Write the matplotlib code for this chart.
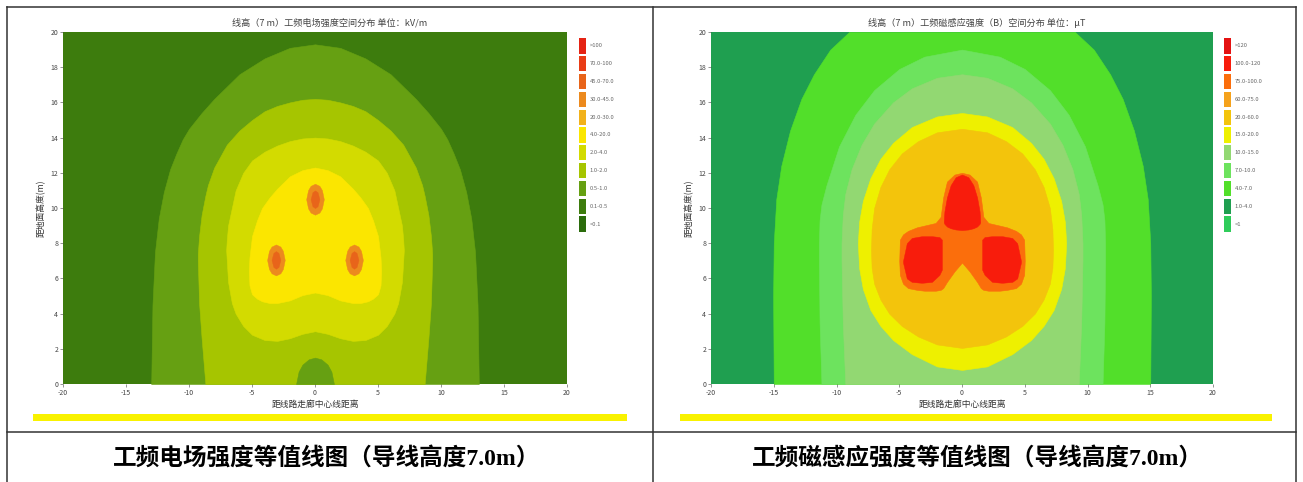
import numpy as np
import matplotlib
matplotlib.use('Agg')
import matplotlib.pyplot as plt
from matplotlib.patches import Rectangle

plt.rcParams['font.family'] = ['Noto Sans CJK SC', 'DejaVu Sans']
plt.rcParams['axes.unicode_minus'] = False

W, H = 1303, 482

# ---------------- left map : power-frequency electric field ----------------
e_title = '线高（7 m）工频电场强度空间分布 单位：kV/m'
e_caption = '工频电场强度等值线图（导线高度7.0m）'
e_labels = ['<0.1', '0.1-0.5', '0.5-1.0', '1.0-2.0', '2.0-4.0', '4.0-20.0',
            '20.0-30.0', '30.0-45.0', '45.0-70.0', '70.0-100', '>100']
e_colors = ['#2b6c0c', '#3d7c0d', '#66a012', '#a6c500', '#d3db00', '#fbe600',
            '#f2b21a', '#ec8a1e', '#e8641a', '#e93c16', '#e52314']

# contour outlines (right half, mirrored about x=0)
e_ring1_x  = [0, 2, 4, 6, 7, 8, 9, 10, 10.5, 11, 11.5, 12, 12.4, 12.7, 12.9, 13.0]
e_ring1_lo = [0] * 16
e_ring1_hi = [19.3, 19.1, 18.5, 17.6, 16.9, 16.2, 15.4, 14.5, 13.9, 13.1, 12.2, 10.9, 9.4, 7.5, 4.5, 0]

e_ring2_x  = [0, 1, 2, 3, 4, 5, 6, 7, 8, 8.5, 8.7, 9.0, 9.2, 9.3]
e_ring2_lo = [0, 0, 0, 0, 0, 0, 0, 0, 0, 0, 0, 2.6, 4.6, 7.0]
e_ring2_hi = [16.2, 16.15, 16.0, 15.8, 15.5, 15.0, 14.4, 13.6, 12.3, 11.3, 10.7, 9.6, 8.4, 7.4]

e_dome_x  = [0, 0.5, 1.0, 1.3, 1.5]
e_dome_lo = [0, 0, 0, 0, 0]
e_dome_hi = [1.5, 1.4, 1.1, 0.7, 0]

e_ring3_x  = [0, 1, 2, 3, 4, 5, 5.7, 6.3, 6.6, 6.9, 7.0, 7.05]
e_ring3_lo = [3.0, 2.85, 2.6, 2.45, 2.5, 2.8, 3.3, 4.0, 4.6, 5.8, 7.0, 7.6]
e_ring3_hi = [14.0, 13.95, 13.8, 13.55, 13.2, 12.7, 12.0, 11.0, 10.0, 9.0, 8.2, 7.6]

e_core_x  = [0, 1, 2, 3, 3.6, 4.2, 4.6, 5.0, 5.2, 5.25]
e_core_lo = [5.2, 5.05, 4.75, 4.6, 4.6, 4.7, 4.85, 5.1, 5.6, 6.4]
e_core_hi = [12.3, 12.15, 11.8, 11.1, 10.6, 10.0, 9.3, 8.4, 7.2, 6.4]

e_blob_cx = [-3.1, 3.1, 0.0]
e_blob_cy = [7.05, 7.05, 10.5]
e_blob_dx = [0, 0.35, 0.55, 0.7]
e_blob_hh = [0.88, 0.76, 0.52, 0.0]
e_spot_dx = [0, 0.2, 0.35]
e_spot_hh = [0.5, 0.4, 0.0]

# ---------------- right map : power-frequency magnetic induction ----------------
b_title = '线高（7 m）工频磁感应强度（B）空间分布 单位：μT'
b_caption = '工频磁感应强度等值线图（导线高度7.0m）'
b_labels = ['<1', '1.0-4.0', '4.0-7.0', '7.0-10.0', '10.0-15.0', '15.0-20.0',
            '20.0-60.0', '60.0-75.0', '75.0-100.0', '100.0-120', '>120']
b_colors = ['#2fcc5a', '#1f9f50', '#52df2a', '#6de35e', '#92d872', '#eef000',
            '#f3c40c', '#f5a21c', '#fb6e0c', '#f81c0c', '#e41212']

b_ring1_x  = [0, 9.0, 10.5, 11.8, 12.8, 13.7, 14.4, 14.8, 15.0, 15.05]
b_ring1_lo = [0, 0, 0, 0, 0, 0, 0, 0, 0, 5.0]
b_ring1_hi = [20, 20, 19.0, 17.6, 16.2, 14.4, 12.4, 10.5, 8.0, 5.0]

b_ring2_x  = [0, 3, 5, 7, 8.5, 9.8, 10.8, 11.2, 11.35, 11.4]
b_ring2_lo = [0, 0, 0, 0, 0, 0, 0, 0, 3.5, 7.0]
b_ring2_hi = [19.0, 18.6, 17.9, 16.7, 15.3, 13.5, 11.3, 10.2, 9.3, 8.0]

b_ring3_x  = [0, 2, 4, 5.5, 7, 8, 8.8, 9.3, 9.5, 9.6]
b_ring3_lo = [0, 0, 0, 0, 0, 0, 0, 0, 3.5, 7.0]
b_ring3_hi = [17.6, 17.4, 16.8, 16.0, 14.8, 13.6, 12.2, 10.8, 9.6, 8.0]

b_ring4_x  = [0, 2, 4, 5.5, 6.5, 7.3, 7.9, 8.2, 8.3]
b_ring4_lo = [0.8, 1.0, 1.7, 2.5, 3.3, 4.2, 5.4, 6.6, 8.0]
b_ring4_hi = [15.4, 15.2, 14.6, 13.7, 12.8, 11.7, 10.4, 9.2, 8.0]

b_ring5_x  = [0, 2, 3.5, 4.8, 5.8, 6.5, 7.0, 7.2, 7.25]
b_ring5_lo = [2.05, 2.25, 2.7, 3.3, 4.0, 4.8, 5.7, 6.6, 7.6]
b_ring5_hi = [14.5, 14.3, 13.8, 13.1, 12.2, 11.2, 10.0, 8.8, 7.6]

b_tri_x  = [0, 0.6, 1.2, 1.5, 1.7, 2.1, 3.0, 3.6, 4.3, 4.7, 4.95, 5.0]
b_tri_lo = [6.9, 6.4, 5.8, 5.45, 5.35, 5.3, 5.3, 5.35, 5.45, 5.7, 6.2, 7.0]
b_tri_hi = [12.0, 11.9, 11.5, 10.6, 9.5, 9.15, 9.0, 8.9, 8.7, 8.5, 8.2, 7.0]

b_top_x  = [0, 0.5, 0.9, 1.2, 1.4, 1.45]
b_top_lo = [8.75, 8.78, 8.85, 8.95, 9.1, 9.2]
b_top_hi = [11.9, 11.75, 11.3, 10.6, 9.8, 9.2]

b_side_x  = [1.6, 1.8, 2.4, 3.2, 4.0, 4.4, 4.7]
b_side_lo = [6.5, 6.2, 5.8, 5.75, 5.8, 6.0, 6.9]
b_side_hi = [8.2, 8.35, 8.4, 8.4, 8.3, 8.0, 7.0]

x_ticks = [-20, -15, -10, -5, 0, 5, 10, 15, 20]
y_ticks = [0, 2, 4, 6, 8, 10, 12, 14, 16, 18, 20]
x_name = '距线路走廊中心线距离'
y_name = '距地面高度(m)'


def sym(x, lo, hi):
    x, lo, hi = np.asarray(x, float), np.asarray(lo, float), np.asarray(hi, float)
    return (np.concatenate([-x[::-1], x]), np.concatenate([lo[::-1], lo]),
            np.concatenate([hi[::-1], hi]))


def region(ax, x, lo, hi, color, mirror=True):
    if mirror:
        x, lo, hi = sym(x, lo, hi)
    ax.fill_between(x, lo, hi, color=color, lw=0.4, ec=color)


def blob(ax, cx, cy, dx, hh, color):
    x, lo, hi = sym(dx, [-h for h in hh], hh)
    ax.fill_between(cx + x, cy + lo, cy + hi, color=color, lw=0.3, ec=color)


def dress(ax, title, cx):
    ax.set_xlim(-20, 20)
    ax.set_ylim(0, 20)
    ax.set_xticks(x_ticks)
    ax.set_yticks(y_ticks)
    ax.tick_params(labelsize=5, length=2, width=0.4, pad=1.5, colors='#444')
    for s in ax.spines.values():
        s.set_visible(False)
    ax.set_xlabel(x_name, fontsize=6.3, color='#333', labelpad=2)
    ax.set_ylabel(y_name, fontsize=6.3, color='#333', labelpad=3)
    fig.text(cx / W, 1 - 23 / H, title, fontsize=6.6, color='#444',
             ha='center', va='center')


def key(cax, labels, colors):
    idx = np.arange(len(labels))
    cax.barh(idx, 1.0, height=0.86, left=0, color=colors)
    for i, lab in zip(idx, labels):
        cax.text(1.6, i, lab, fontsize=4.2, va='center', color='#666')
    cax.set_xlim(0, 9)
    cax.set_ylim(-0.5, len(labels) - 0.5)
    cax.axis('off')


fig = plt.figure(figsize=(W / 100, H / 100), dpi=100)

# table frame and captions
bg = fig.add_axes([0, 0, 1, 1], zorder=-5)
bg.set_xlim(0, W)
bg.set_ylim(H, 0)
bg.axis('off')
for xs, ys in [([7, 1296], [7, 7]), ([7, 1296], [432, 432]), ([7, 7], [7, H]),
               ([653, 653], [7, H]), ([1296, 1296], [7, H])]:
    bg.plot(xs, ys, color='#333', lw=1.1)
bg.add_patch(Rectangle((33, 414), 594, 7, color='#f9f200', lw=0))
bg.add_patch(Rectangle((680, 414), 592, 7, color='#f9f200', lw=0))
cap_font = ['Liberation Serif', 'Noto Sans CJK SC']
bg.text(327, 458, e_caption, fontsize=17, fontweight='bold', family=cap_font,
        ha='center', va='center')
bg.text(977, 458, b_caption, fontsize=17, fontweight='bold', family=cap_font,
        ha='center', va='center')

# left map
ax1 = fig.add_axes([63 / W, 98 / H, 504 / W, 352 / H])
ax1.set_facecolor(e_colors[1])
region(ax1, e_ring1_x, e_ring1_lo, e_ring1_hi, e_colors[2])
region(ax1, e_ring2_x, e_ring2_lo, e_ring2_hi, e_colors[3])
region(ax1, e_dome_x, e_dome_lo, e_dome_hi, e_colors[2])
region(ax1, e_ring3_x, e_ring3_lo, e_ring3_hi, e_colors[4])
region(ax1, e_core_x, e_core_lo, e_core_hi, e_colors[5])
for cx, cy in zip(e_blob_cx, e_blob_cy):
    blob(ax1, cx, cy, e_blob_dx, e_blob_hh, e_colors[7])
    blob(ax1, cx, cy, e_spot_dx, e_spot_hh, e_colors[8])
dress(ax1, e_title, 330)
key(fig.add_axes([579 / W, (H - 233) / H, 60 / W, 196 / H]), e_labels, e_colors)

# right map
ax2 = fig.add_axes([711 / W, 98 / H, 502 / W, 352 / H])
ax2.set_facecolor(b_colors[1])
region(ax2, b_ring1_x, b_ring1_lo, b_ring1_hi, b_colors[2])
region(ax2, b_ring2_x, b_ring2_lo, b_ring2_hi, b_colors[3])
region(ax2, b_ring3_x, b_ring3_lo, b_ring3_hi, b_colors[4])
region(ax2, b_ring4_x, b_ring4_lo, b_ring4_hi, b_colors[5])
region(ax2, b_ring5_x, b_ring5_lo, b_ring5_hi, b_colors[6])
region(ax2, b_tri_x, b_tri_lo, b_tri_hi, b_colors[8])
region(ax2, b_top_x, b_top_lo, b_top_hi, b_colors[9])
for sgn in (-1, 1):
    ax2.fill_between(sgn * np.asarray(b_side_x), b_side_lo, b_side_hi,
                     color=b_colors[9], lw=0.3, ec=b_colors[9])
dress(ax2, b_title, 977)
key(fig.add_axes([1224 / W, (H - 233) / H, 60 / W, 196 / H]), b_labels, b_colors)

fig.savefig('out.png', dpi=100)
